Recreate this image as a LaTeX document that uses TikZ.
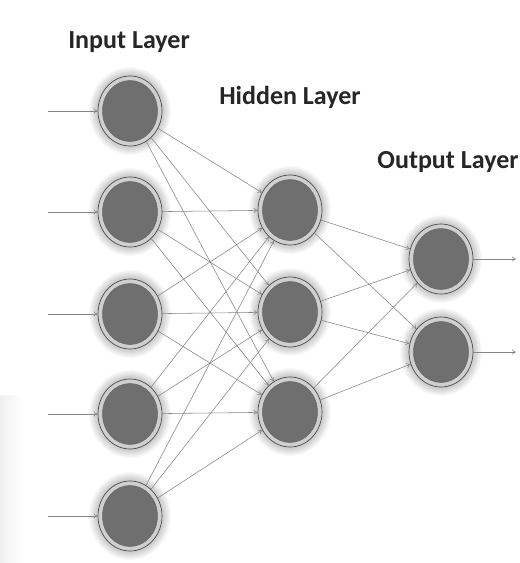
\documentclass[tikz,border=0pt]{standalone}
\usepackage{fontspec}
\setmainfont{Carlito}
\usetikzlibrary{shapes.geometric,arrows.meta}
\definecolor{neuronfill}{HTML}{6F6F6F}
\definecolor{neuronring}{HTML}{CFCFCF}
\definecolor{neuronedge}{HTML}{4A4A4A}
\definecolor{wire}{HTML}{858585}
\tikzset{
  neuron/.style={ellipse, minimum width=64pt, minimum height=70pt, inner sep=0pt,
    draw=neuronedge, line width=0.7pt, fill=neuronring},
  core/.style={ellipse, minimum width=55pt, minimum height=61pt, inner sep=0pt,
    draw=neuronedge!85, line width=0.5pt, fill=neuronfill},
  glow/.style={ellipse, minimum width=#1, minimum height=#1+6pt, inner sep=0pt,
    fill=black, opacity=0.025, draw=none},
  link/.style={draw=wire, line width=0.55pt, -{To[length=4pt,width=5pt]}},
  title/.style={font=\bfseries\fontsize{26}{30}\selectfont, text=black!85}
}
\newcommand{\neuronat}[2]{%
  \foreach \g in {82,80,78,76,74,72,70,68} {\node[glow=\g pt] at (#2) {};}
  \node[neuron] (#1) at (#2) {};
  \node[core] at (#2) {};
}
\begin{document}
\begin{tikzpicture}[x=1pt,y=-1pt]
\useasboundingbox (0,0) rectangle (520,563);
\fill[white] (0,0) rectangle (520,563);
% faint shading at the lower left
\shade[left color=black!6, right color=white] (0,395) rectangle (22,563);

% neurons
\neuronat{i1}{130,111}
\neuronat{i2}{130,212}
\neuronat{i3}{130,314}
\neuronat{i4}{130,414}
\neuronat{i5}{130,516}
\neuronat{h1}{290,210}
\neuronat{h2}{290,312}
\neuronat{h3}{290,412}
\neuronat{o1}{441,259}
\neuronat{o2}{441,352}

% layer titles
\node[title] (tin) at (129,42) {Input Layer};
\node[title] (thid) at (290,97) {Hidden Layer};
\node[title] (tout) at (448,162) {Output Layer};

% input arrows
\foreach \k/\y in {1/111,2/212,3/314,4/414,5/516} {
  \coordinate (src\k) at (48,\y);
  \draw[link] (src\k) -- (i\k);
}
% input to hidden
\foreach \a in {1,...,5} {
  \foreach \b in {1,2,3} {
    \draw[link] (i\a) -- (h\b);
  }
}
% hidden to output
\foreach \a in {1,2,3} {
  \foreach \b in {1,2} {
    \draw[link] (h\a) -- (o\b);
  }
}
% output arrows
\coordinate (dst1) at (516,259);
\coordinate (dst2) at (516,352);
\draw[link] (o1) -- (dst1);
\draw[link] (o2) -- (dst2);
\end{tikzpicture}
\end{document}
